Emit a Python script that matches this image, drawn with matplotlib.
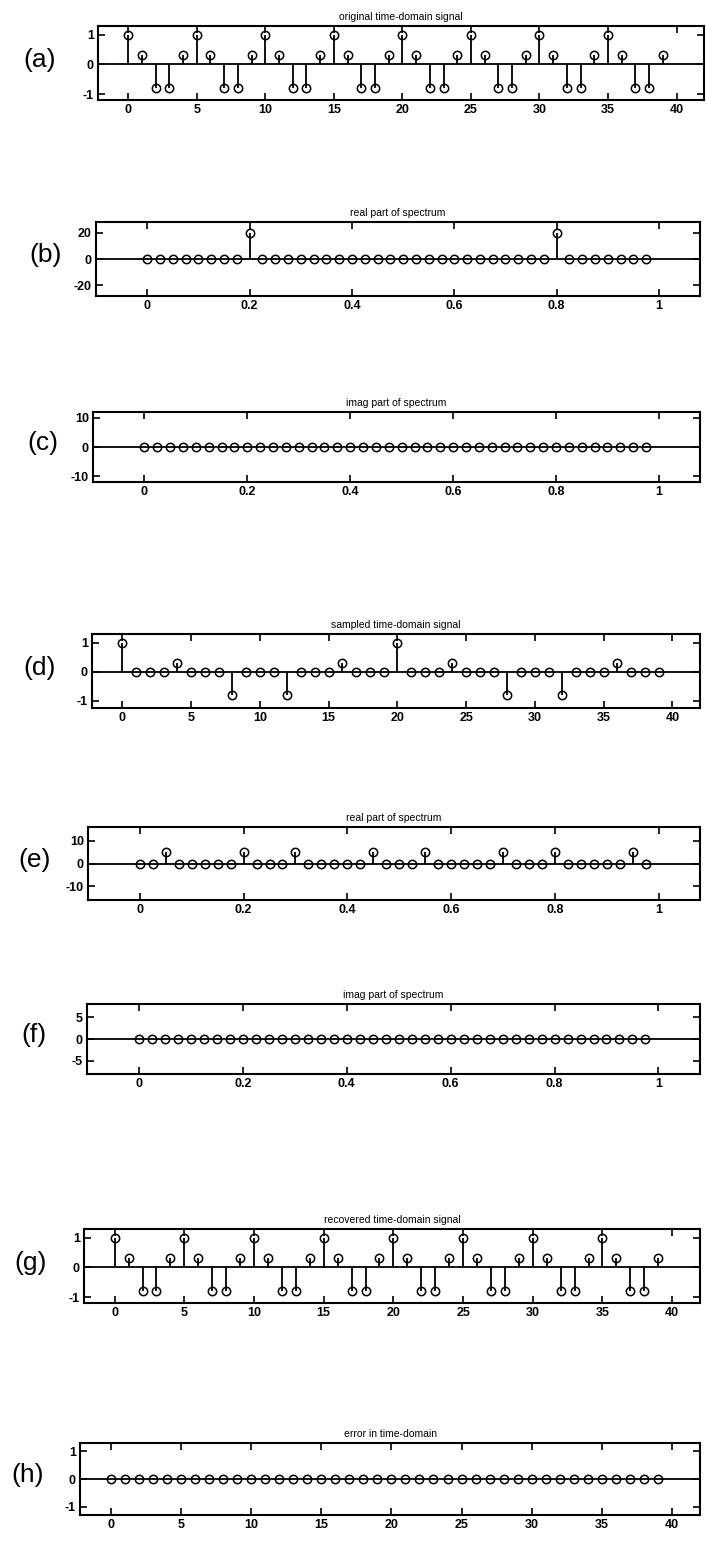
import matplotlib
matplotlib.use('Agg')
import matplotlib.pyplot as plt

plt.rcParams['font.family'] = ['Liberation Sans', 'DejaVu Sans']
plt.rcParams['axes.unicode_minus'] = False

# 时间序号 n = 0..39
n_idx = list(range(40))

# 频率轴 k/40
freq = [0.0, 0.025, 0.05, 0.075, 0.1, 0.125, 0.15, 0.175, 0.2, 0.225,
        0.25, 0.275, 0.3, 0.325, 0.35, 0.375, 0.4, 0.425, 0.45, 0.475,
        0.5, 0.525, 0.55, 0.575, 0.6, 0.625, 0.65, 0.675, 0.7, 0.725,
        0.75, 0.775, 0.8, 0.825, 0.85, 0.875, 0.9, 0.925, 0.95, 0.975]

# (a) 原始时域信号
orig_sig = [1, 0.31, -0.81, -0.81, 0.31, 1, 0.31, -0.81, -0.81, 0.31,
            1, 0.31, -0.81, -0.81, 0.31, 1, 0.31, -0.81, -0.81, 0.31,
            1, 0.31, -0.81, -0.81, 0.31, 1, 0.31, -0.81, -0.81, 0.31,
            1, 0.31, -0.81, -0.81, 0.31, 1, 0.31, -0.81, -0.81, 0.31]

# (b) 频谱实部
orig_re = [0, 0, 0, 0, 0, 0, 0, 0, 20, 0,
           0, 0, 0, 0, 0, 0, 0, 0, 0, 0,
           0, 0, 0, 0, 0, 0, 0, 0, 0, 0,
           0, 0, 20, 0, 0, 0, 0, 0, 0, 0]

# (c) 频谱虚部
orig_im = [0] * 40

# (d) 抽样后的时域信号
samp_sig = [1, 0, 0, 0, 0.31, 0, 0, 0, -0.81, 0,
            0, 0, -0.81, 0, 0, 0, 0.31, 0, 0, 0,
            1, 0, 0, 0, 0.31, 0, 0, 0, -0.81, 0,
            0, 0, -0.81, 0, 0, 0, 0.31, 0, 0, 0]

# (e) 抽样信号频谱实部
samp_re = [0, 0, 5, 0, 0, 0, 0, 0, 5, 0,
           0, 0, 5, 0, 0, 0, 0, 0, 5, 0,
           0, 0, 5, 0, 0, 0, 0, 0, 5, 0,
           0, 0, 5, 0, 0, 0, 0, 0, 5, 0]

# (f) 抽样信号频谱虚部
samp_im = [0] * 40

# (g) 恢复的时域信号
rec_sig = [1, 0.31, -0.81, -0.81, 0.31, 1, 0.31, -0.81, -0.81, 0.31,
           1, 0.31, -0.81, -0.81, 0.31, 1, 0.31, -0.81, -0.81, 0.31,
           1, 0.31, -0.81, -0.81, 0.31, 1, 0.31, -0.81, -0.81, 0.31,
           1, 0.31, -0.81, -0.81, 0.31, 1, 0.31, -0.81, -0.81, 0.31]

# (h) 时域误差
err_sig = [0] * 40

time_ticks = [0, 5, 10, 15, 20, 25, 30, 35, 40]
freq_ticks = [0, 0.2, 0.4, 0.6, 0.8, 1]
freq_labels = ['0', '0.2', '0.4', '0.6', '0.8', '1']

W, H = 706, 1541

# 每个子图: 标签, 标题, x, y, 像素框(左, 上, 右, 下), y范围, y刻度, 标签中心x
panels = [
    ('(a)', 'original time-domain signal', n_idx, orig_sig, (98, 26, 704, 100), (-1.2, 1.3), [-1, 0, 1], 40),
    ('(b)', 'real part of spectrum', freq, orig_re, (96, 222, 700, 296), (-28, 28), [-20, 0, 20], 46),
    ('(c)', 'imag part of spectrum', freq, orig_im, (93, 412, 700, 482), (-12, 12), [-10, 0, 10], 43),
    ('(d)', 'sampled time-domain signal', n_idx, samp_sig, (92, 634, 700, 708), (-1.25, 1.3), [-1, 0, 1], 40),
    ('(e)', 'real part of spectrum', freq, samp_re, (88, 827, 700, 900), (-16, 16), [-10, 0, 10], 35),
    ('(f)', 'imag part of spectrum', freq, samp_im, (87, 1004, 700, 1074), (-8, 8), [-5, 0, 5], 34),
    ('(g)', 'recovered time-domain signal', n_idx, rec_sig, (84, 1229, 700, 1303), (-1.2, 1.3), [-1, 0, 1], 31),
    ('(h)', 'error in time-domain', n_idx, err_sig, (80, 1443, 700, 1515), (-1.3, 1.3), [-1, 0, 1], 28),
]

fig = plt.figure(figsize=(W / 100, H / 100), dpi=100)

for label, title, x, y, box, ylim, yticks, lab_x in panels:
    l, t, r, b = box
    ax = fig.add_axes([l / W, 1 - b / H, (r - l) / W, (b - t) / H])
    markerline, stemlines, baseline = ax.stem(x, y, linefmt='k-', markerfmt='ko', basefmt=' ')
    markerline.set_markerfacecolor('none')
    markerline.set_markersize(6)
    markerline.set_markeredgewidth(1.1)
    stemlines.set_linewidth(1.3)
    ax.axhline(0, color='k', lw=1.3, zorder=1)
    ax.set_ylim(*ylim)
    ax.set_yticks(yticks)
    if x is freq:
        ax.set_xlim(-0.1, 1.08)
        ax.set_xticks(freq_ticks)
        ax.set_xticklabels(freq_labels)
    else:
        ax.set_xlim(-2.2, 42)
        ax.set_xticks(time_ticks)
    ax.tick_params(direction='in', top=True, right=True, length=5, width=1.2,
                   labelsize=9, pad=3)
    for tl in ax.get_xticklabels() + ax.get_yticklabels():
        tl.set_fontweight('bold')
    for sp in ax.spines.values():
        sp.set_linewidth(1.5)
    ax.set_title(title, fontsize=7.5, pad=4)
    # 左侧面板标签, 略高于零线
    y0 = ax.transData.transform((0, 0))[1] + 4
    fig.text(lab_x / W, y0 / H, label, fontsize=19, ha='center', va='center')

fig.savefig('out.png', dpi=100)
